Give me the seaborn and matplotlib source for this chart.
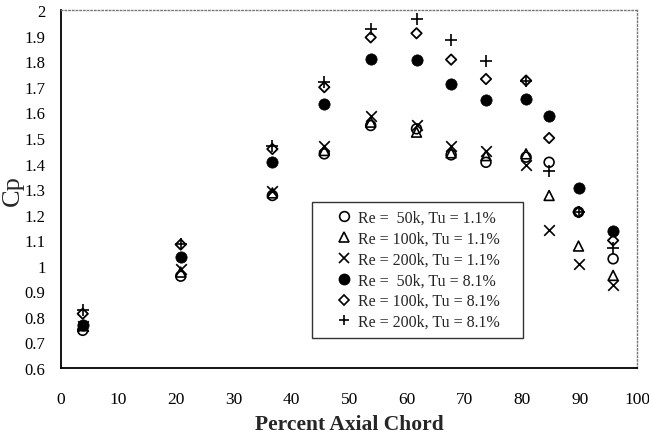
import matplotlib
matplotlib.use("Agg")
import matplotlib.pyplot as plt
import seaborn as sns
import pandas as pd
from matplotlib.lines import Line2D

# ---- data ----
chord = [3.8, 20.8, 36.7, 45.7, 53.75, 61.7, 67.7, 73.75, 80.7, 84.7, 89.8, 95.8]

cp_re50_tu11 = [0.747, 0.959, 1.275, 1.438, 1.549, 1.536, 1.434, 1.405, 1.425, 1.405, 1.21, 1.027]
cp_re100_tu11 = [0.765, 0.975, 1.285, 1.451, 1.562, 1.523, 1.442, 1.431, 1.438, 1.275, 1.077, 0.962]
cp_re200_tu11 = [0.765, 0.988, 1.294, 1.470, 1.588, 1.549, 1.470, 1.451, 1.395, 1.138, 1.007, 0.923]
cp_re50_tu81 = [0.766, 1.034, 1.405, 1.633, 1.809, 1.806, 1.712, 1.650, 1.653, 1.585, 1.304, 1.134]
cp_re100_tu81 = [0.812, 1.083, 1.457, 1.699, 1.894, 1.910, 1.807, 1.731, 1.725, 1.500, 1.210, 1.099]
cp_re200_tu81 = [0.825, 1.085, 1.470, 1.718, 1.927, 1.966, 1.884, 1.800, 1.725, 1.372, 1.210, 1.069]

labels = ["Re =  50k, Tu = 1.1%", "Re = 100k, Tu = 1.1%", "Re = 200k, Tu = 1.1%",
          "Re =  50k, Tu = 8.1%", "Re = 100k, Tu = 8.1%", "Re = 200k, Tu = 8.1%"]
series = [cp_re50_tu11, cp_re100_tu11, cp_re200_tu11,
          cp_re50_tu81, cp_re100_tu81, cp_re200_tu81]

xticks = [0, 10, 20, 30, 40, 50, 60, 70, 80, 90, 100]
yticks = [0.6, 0.7, 0.8, 0.9, 1.0, 1.1, 1.2, 1.3, 1.4, 1.5, 1.6, 1.7, 1.8, 1.9, 2.0]
ytick_labels = ["0.6", "0.7", "0.8", "0.9", "1", "1.1", "1.2", "1.3", "1.4",
                "1.5", "1.6", "1.7", "1.8", "1.9", "2"]

df = pd.concat([pd.DataFrame({"chord": chord, "cp": s, "case": lab})
                for s, lab in zip(series, labels)], ignore_index=True)

# ---- styles ----
sns.set_theme(style="white")
plt.rcParams["font.family"] = ["Liberation Serif", "DejaVu Serif"]

styles = [
    dict(marker="o", s=50, facecolor="none", edgecolor="black", linewidth=1.2),
    dict(marker="^", s=50, facecolor="none", edgecolor="black", linewidth=1.2),
    dict(marker="x", s=58, color="black", linewidth=1.2),
    dict(marker="o", s=66, facecolor="black", edgecolor="black", linewidth=0.5),
    dict(marker="D", s=28, facecolor="none", edgecolor="black", linewidth=1.3),
    dict(marker="+", s=78, color="black", linewidth=1.2),
]

fig = plt.figure(figsize=(6.49, 4.35), dpi=100)
ax = fig.add_axes([0.0937, 0.152, 0.8883, 0.822])

for lab, st in zip(labels, styles):
    sub = df[df["case"] == lab]
    sns.scatterplot(data=sub, x="chord", y="cp", ax=ax, legend=False, zorder=3, **st)

ax.set_xlim(0, 100)
ax.set_ylim(0.6, 2.0)
ax.set_xticks(xticks)
ax.set_xticklabels([str(t) for t in xticks])
ax.set_yticks(yticks)
ax.set_yticklabels(ytick_labels)
ax.tick_params(axis="x", direction="out", length=4, width=1, pad=13, labelsize=12.5, colors="black")
ax.tick_params(axis="y", direction="out", length=4, width=1, pad=7, labelsize=12, colors="black")

ax.set_xlabel("Percent Axial Chord", fontsize=15.5, fontweight="bold", labelpad=5)
ax.set_ylabel("Cp", fontsize=19)
ax.yaxis.set_label_coords(-0.064, 0.5)

for side in ["left", "bottom"]:
    ax.spines[side].set_color("black")
    ax.spines[side].set_linewidth(1.3)
for side in ["top", "right"]:
    ax.spines[side].set_color("#777777")
    ax.spines[side].set_linestyle(":")
    ax.spines[side].set_linewidth(1.0)

# ---- legend ----
handles = []
for lab, st in zip(labels, styles):
    m = st["marker"]
    if m in ("x", "+"):
        h = Line2D([], [], linestyle="none", marker=m, color="black",
                   markersize=7, markeredgewidth=1.2)
    elif st.get("facecolor") == "black":
        h = Line2D([], [], linestyle="none", marker=m, markerfacecolor="black",
                   markeredgecolor="black", markersize=7.5)
    else:
        ms = 5 if m == "D" else 7
        h = Line2D([], [], linestyle="none", marker=m, markerfacecolor="none",
                   markeredgecolor="black", markersize=ms, markeredgewidth=1.2)
    handles.append(h)

leg = ax.legend(handles, labels, loc="upper left",
                bbox_to_anchor=(0.436, 0.089, 0.366, 0.375), mode="expand",
                fontsize=11.5, frameon=True, fancybox=False, borderaxespad=0,
                handlelength=3.0, handletextpad=-0.6, labelspacing=0.3,
                borderpad=0.5)
leg.get_frame().set_edgecolor("black")
leg.get_frame().set_linewidth(1.0)

fig.savefig("out.png", dpi=100)
